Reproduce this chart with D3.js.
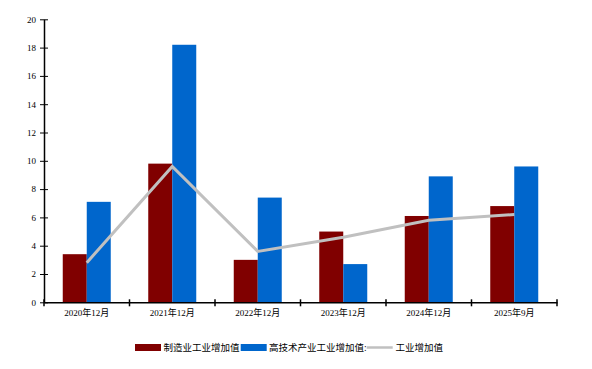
<!DOCTYPE html>
<html><head><meta charset="utf-8">
<script src="https://cdn.jsdelivr.net/npm/d3@7"></script>
<style>body{margin:0;background:#fff}text{font-family:"Liberation Serif","Noto Sans CJK SC",serif}</style>
</head><body><svg id="c" width="592" height="369"></svg>
<script>
const categories = ["2020年12月","2021年12月","2022年12月","2023年12月","2024年12月","2025年9月"];
const manufacturing = [3.4, 9.8, 3.0, 5.0, 6.1, 6.8];
const hightech = [7.1, 18.2, 7.4, 2.7, 8.9, 9.6];
const industry = [2.8, 9.6, 3.6, 4.6, 5.8, 6.2];
const yTicks = [0,2,4,6,8,10,12,14,16,18,20];
const seriesNames = ["制造业工业增加值","高技术产业工业增加值:","工业增加值"];

const svg = d3.select("#c");
const m = {l:44, r:35, t:19.3, b:66.7};
const W = 592, H = 369;
const x = d3.scaleBand().domain(categories).range([m.l, W-m.r]).paddingInner(0).paddingOuter(0);
const y = d3.scaleLinear().domain([0,20]).range([H-m.b, m.t]);
const bw = 24;

const g = svg.append("g");
categories.forEach((c,i)=>{
  const cx = x(c) + x.bandwidth()/2;
  g.append("rect").attr("x", cx-bw).attr("width", bw).attr("y", y(manufacturing[i])).attr("height", y(0)-y(manufacturing[i])).attr("fill","#800000");
  g.append("rect").attr("x", cx).attr("width", bw).attr("y", y(hightech[i])).attr("height", y(0)-y(hightech[i])).attr("fill","#0066cc");
});
const line = d3.line().x((d,i)=>x(categories[i])+x.bandwidth()/2).y(d=>y(d));
g.append("path").attr("d", line(industry)).attr("fill","none").attr("stroke","#c0c0c0").attr("stroke-width",3);

const ya = svg.append("g").attr("transform",`translate(${m.l},0)`).call(d3.axisLeft(y).tickValues(yTicks).tickSize(4).tickSizeInner(4).tickSizeOuter(0));
ya.selectAll("line").attr("x1",-4).attr("x2",4);
ya.select(".domain").attr("stroke","#000").attr("stroke-width",1.5);
ya.selectAll("text").attr("font-size",9).attr("x",-8).attr("fill","#000");

const xa = svg.append("g").attr("transform",`translate(0,${y(0)})`).call(d3.axisBottom(x).tickSize(0));
xa.select(".domain").attr("stroke","#000").attr("stroke-width",1.5);
xa.selectAll("text").attr("font-size",9).attr("dy","1.2em").attr("fill","#000");
const edges = categories.map(c=>x(c)).concat([W-m.r]);
xa.selectAll(".edge").data(edges).enter().append("line").attr("x1",d=>d).attr("x2",d=>d).attr("y1",-3).attr("y2",4).attr("stroke","#000").attr("stroke-width",1.5);

const lg = svg.append("g").attr("font-size",9.5);
const ly = 347.5;
lg.append("rect").attr("x",135).attr("y",ly-3.5).attr("width",26).attr("height",7).attr("fill","#800000");
lg.append("text").attr("x",163.5).attr("y",ly+3.5).text(seriesNames[0]);
lg.append("rect").attr("x",240.7).attr("y",ly-3.5).attr("width",26).attr("height",7).attr("fill","#0066cc");
lg.append("text").attr("x",269).attr("y",ly+3.5).text(seriesNames[1]);
lg.append("line").attr("x1",366.7).attr("x2",392.7).attr("y1",ly).attr("y2",ly).attr("stroke","#c0c0c0").attr("stroke-width",2.5);
lg.append("text").attr("x",395.5).attr("y",ly+3.5).text(seriesNames[2]);
</script></body></html>
